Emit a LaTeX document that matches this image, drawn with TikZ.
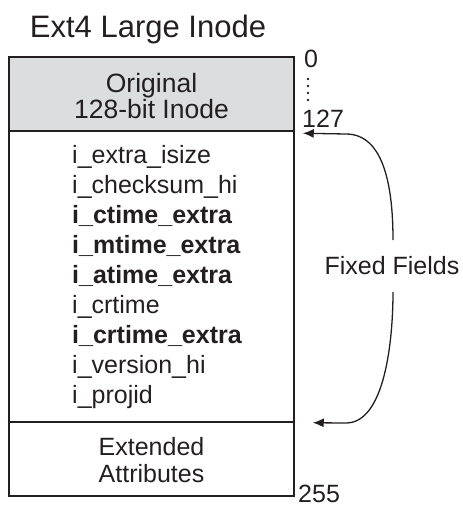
\documentclass[tikz,border=0pt]{standalone}
\usepackage{fontspec}
\setmainfont{Liberation Sans}
\usetikzlibrary{arrows.meta,calc}
\definecolor{inodegray}{RGB}{220,221,222}
\definecolor{ink}{RGB}{35,31,32}
\tikzset{
  blockbox/.style={draw=ink, line width=1.5pt, minimum width=285pt, inner sep=0pt},
  bodytext/.style={text=ink, font=\fontsize{25}{27}\selectfont, inner sep=0pt},
  offset/.style={text=ink, font=\fontsize{25}{27}\selectfont, inner sep=0pt, anchor=base west},
  bracearrow/.style={draw=ink, line width=1.3pt, -{Latex[length=11pt,width=9pt]}}
}
\begin{document}
\begin{tikzpicture}[x=1pt, y=-1pt]
\useasboundingbox (0,0) rectangle (463,509);

% heading
\node[text=ink, font=\fontsize{31}{31}\selectfont, inner sep=0pt, anchor=base] (title) at (148,37) {Ext4 Large Inode};

% the three regions of the inode
\node[blockbox, fill=inodegray, minimum height=74pt] (orig) at (151.5,94) {};
\node[blockbox, minimum height=291pt] (fields) at (151.5,276.5) {};
\node[blockbox, minimum height=74pt] (ext) at (151.5,459) {};

\node[bodytext, font=\fontsize{26.5}{26}\selectfont, align=center] (origtxt) at ($(orig.center)+(0,2)$) {Original\\128-bit Inode};
\node[bodytext, align=center] (exttxt) at ($(ext.center)+(0,1)$) {Extended\\Attributes};

% field names (anchored at the baseline of the last line)
\node[text=ink, font=\fontsize{25}{30}\selectfont, inner sep=0pt, anchor=base west, align=left] (list) at (72,403)
  {i\_extra\_isize\\
   i\_checksum\_hi\\
   \textbf{i\_ctime\_extra}\\
   \textbf{i\_mtime\_extra}\\
   \textbf{i\_atime\_extra}\\
   i\_crtime\\
   \textbf{i\_crtime\_extra}\\
   i\_version\_hi\\
   i\_projid};

% byte offsets
\node[offset] (o0) at (304,67) {0};
\node[offset] (o127) at (302,127) {127};
\node[offset] (o255) at (298,502) {255};
\foreach \yy in {79,86,93,100}
  \fill[ink] (308,\yy) circle (1.4pt);

% brace of arrows around the fixed fields
\node[bodytext] (ff) at (392,266) {Fixed Fields};
\coordinate (ftop) at (393,240);
\coordinate (fbot) at (393,292);
\coordinate (tipA) at ($(fields.north east)+(8,3)$);
\coordinate (tipB) at ($(fields.south east)+(18,0)$);
\draw[bracearrow] (ftop) .. controls (393,190) and (385,134) .. (346,134) -- (tipA);
\draw[bracearrow] (fbot) .. controls (393,340) and (385,423) .. (346,423) -- (tipB);
\end{tikzpicture}
\end{document}
